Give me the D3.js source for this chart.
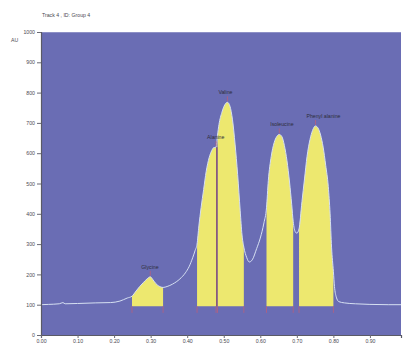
<!DOCTYPE html>
<html>
<head>
<meta charset="utf-8">
<script src="https://cdn.jsdelivr.net/npm/d3@7"></script>
<style>
  html, body { margin: 0; padding: 0; background: #ffffff; }
  svg { display: block; font-family: "Liberation Sans", Arial, sans-serif; }
</style>
</head>
<body>
<svg id="chart" width="404" height="349"></svg>
<script>
// Chromatogram trace: retention (min x 100) and detector response (AU)
const retention = [
  0.000, 0.020, 0.050, 0.060, 0.066, 0.100, 0.150, 0.190, 0.216, 0.236,
  0.249, 0.260, 0.270, 0.280, 0.290, 0.299, 0.306, 0.314, 0.322, 0.334,
  0.345, 0.360, 0.380, 0.395, 0.405, 0.415, 0.422, 0.427, 0.432, 0.438,
  0.445, 0.452, 0.460, 0.467, 0.472, 0.479, 0.483, 0.487, 0.495, 0.503,
  0.510, 0.517, 0.524, 0.531, 0.538, 0.545, 0.550, 0.555, 0.563, 0.570,
  0.578, 0.590, 0.600, 0.610, 0.617, 0.622, 0.630, 0.638, 0.645, 0.652,
  0.659, 0.666, 0.673, 0.680, 0.686, 0.690, 0.696, 0.700, 0.706, 0.714,
  0.721, 0.728, 0.736, 0.743, 0.751, 0.758, 0.765, 0.772, 0.779, 0.786,
  0.791, 0.795, 0.800, 0.803, 0.808, 0.815, 0.830, 0.860, 0.900, 0.950,
  0.985
];
const response = [
  100, 101, 103, 107, 103, 104, 106, 107, 112, 122,
  128, 145, 160, 173, 185, 192, 183, 170, 162, 157,
  160, 168, 185, 205, 225, 255, 280, 300, 360, 420,
  480, 540, 585, 608, 618, 620, 660, 695, 735, 760,
  768, 755, 710, 630, 530, 410, 330, 290, 255, 241,
  248, 285, 320, 370, 420, 510, 590, 635, 655, 662,
  655, 625, 575, 505, 430, 375, 340, 336, 350, 440,
  515, 590, 645, 675, 690, 683, 660, 620, 560, 490,
  400, 290, 210, 160, 125, 110, 106, 103, 101, 100,
  100
];

// Integrated peaks: name, window start, window end
const peakNames  = ["Glycine", "Alanine", "Valine", "Isoleucine", "Phenyl alanine"];
const peakStart  = [0.249, 0.427, 0.483, 0.617, 0.706];
const peakEnd    = [0.334, 0.479, 0.555, 0.690, 0.800];
const fillFloor  = 95;   // AU level the integration areas sit on

// Axis tick values
const yTicks = [0, 100, 200, 300, 400, 500, 600, 700, 800, 900, 1000];
const xTicks = [0.00, 0.10, 0.20, 0.30, 0.40, 0.50, 0.60, 0.70, 0.80, 0.90];

const trace = retention.map((t, i) => ({ t, v: response[i] }));

const svg = d3.select("#chart");
const plot = { left: 41, right: 401, top: 32, bottom: 335 };

const x = d3.scaleLinear().domain([0, 0.985]).range([plot.left, plot.right]);
const y = d3.scaleLinear().domain([0, 1000]).range([plot.bottom, plot.top]);

const textColor = "#4a4a52";

// header
svg.append("text")
  .attr("x", 42).attr("y", 17)
  .attr("font-size", 5.2).attr("fill", textColor)
  .text("Track  4 , ID: Group 4");

// plot background
svg.append("rect")
  .attr("x", plot.left).attr("y", plot.top)
  .attr("width", plot.right - plot.left).attr("height", plot.bottom - plot.top)
  .attr("fill", "#6a6db4");
svg.append("line")
  .attr("x1", plot.left).attr("x2", plot.right)
  .attr("y1", plot.top + 0.5).attr("y2", plot.top + 0.5)
  .attr("stroke", "#8d90c6").attr("stroke-width", 1);

// integration areas
const area = d3.area()
  .x(d => x(d.t))
  .y0(y(fillFloor))
  .y1(d => y(d.v))
  .curve(d3.curveMonotoneX);

peakNames.forEach((name, i) => {
  const seg = trace.filter(d => d.t >= peakStart[i] - 1e-9 && d.t <= peakEnd[i] + 1e-9);
  svg.append("path")
    .datum(seg)
    .attr("d", area)
    .attr("fill", "#ede86f");
});

// separator drop-line between Alanine and Valine
{
  const tSep = (peakEnd[1] + peakStart[2]) / 2;
  const vSep = response[retention.indexOf(peakEnd[1])];
  svg.append("line")
    .attr("x1", x(tSep)).attr("x2", x(tSep))
    .attr("y1", y(fillFloor)).attr("y2", y(vSep))
    .attr("stroke", "#8a5a7c").attr("stroke-width", 1.6);
}

// trace line
const line = d3.line()
  .x(d => x(d.t))
  .y(d => y(d.v))
  .curve(d3.curveMonotoneX);

svg.append("path")
  .datum(trace)
  .attr("d", line)
  .attr("fill", "none")
  .attr("stroke", "#d6e0f2")
  .attr("stroke-width", 1);

// peak start/end markers below the areas
peakNames.forEach((name, i) => {
  [peakStart[i], peakEnd[i]].forEach(t => {
    svg.append("line")
      .attr("x1", x(t)).attr("x2", x(t))
      .attr("y1", y(fillFloor)).attr("y2", y(fillFloor - 22))
      .attr("stroke", "#b8607c").attr("stroke-width", 0.8);
  });
});

// peak labels above each apex
peakNames.forEach((name, i) => {
  const seg = trace.filter(d => d.t >= peakStart[i] && d.t <= peakEnd[i]);
  const apex = seg.reduce((a, b) => (b.v > a.v ? b : a));
  const ax = x(apex.t), ay = y(apex.v);
  svg.append("line")
    .attr("x1", ax).attr("x2", ax)
    .attr("y1", ay - 1).attr("y2", ay - 6)
    .attr("stroke", "#b8607c").attr("stroke-width", 0.8);
  svg.append("text")
    .attr("x", ax - 9).attr("y", ay - 8)
    .attr("font-size", 5.2).attr("fill", "#2e2e3a")
    .text(name);
});

// axes
const yAxis = d3.axisLeft(y).tickValues(yTicks).tickSize(4).tickPadding(2)
  .tickFormat(d3.format("d"));
const gy = svg.append("g").attr("transform", `translate(${plot.left},0)`).call(yAxis);

const xAxis = d3.axisBottom(x).tickValues(xTicks).tickSize(3).tickPadding(1)
  .tickFormat(d3.format(".2f"));
const gx = svg.append("g").attr("transform", `translate(0,${plot.bottom})`).call(xAxis);

[gy, gx].forEach(g => {
  g.select(".domain").attr("stroke", "#5a5a66").attr("stroke-width", 1.2);
  g.selectAll(".tick line").attr("stroke", "#6a6a74");
  g.selectAll(".tick text")
    .attr("font-size", 5.2)
    .attr("fill", textColor)
    .attr("font-family", "Liberation Sans, Arial, sans-serif");
});

// unit label
svg.append("text")
  .attr("x", 11).attr("y", 42)
  .attr("font-size", 5.2).attr("fill", textColor)
  .text("AU");
</script>
</body>
</html>
